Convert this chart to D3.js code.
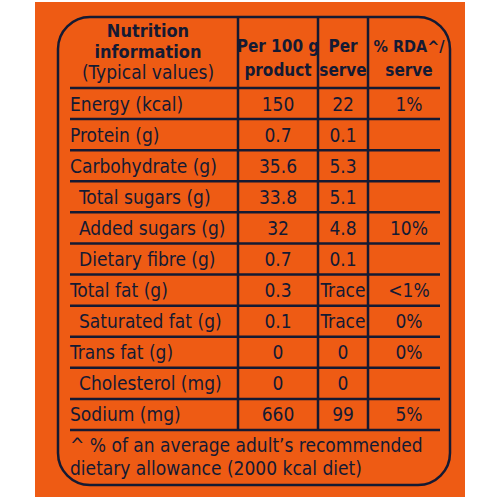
<!DOCTYPE html><html><head><style>body{margin:0;background:#fff}</style>
<script src="https://cdn.jsdelivr.net/npm/d3@7"></script></head><body><svg width="500" height="500"></svg>
<script>
const labels=["Energy (kcal)","Protein (g)","Carbohydrate (g)","Total sugars (g)","Added sugars (g)","Dietary fibre (g)","Total fat (g)","Saturated fat (g)","Trans fat (g)","Cholesterol (mg)","Sodium (mg)"];
const indent=[0,0,0,1,1,1,0,1,0,1,0];
const per100=["150","0.7","35.6","33.8","32","0.7","0.3","0.1","0","0","660"];
const perServe=["22","0.1","5.3","5.1","4.8","0.1","Trace","Trace","0","0","99"];
const rda=["1%","","","","10%","","<1%","0%","0%","","5%"];
const svg=d3.select("svg"),ink="#141a33",F="'DejaVu Sans Condensed','DejaVu Sans',sans-serif";
svg.append("rect").attr("x",35).attr("y",2).attr("width",430).attr("height",495).attr("fill","#ee5b14");
const y=d3.scaleBand().domain(d3.range(labels.length)).range([88,430]);
svg.append("rect").attr("x",58).attr("y",17).attr("width",392).attr("height",468).attr("rx",32).attr("fill","none").attr("stroke",ink).attr("stroke-width",2.5);
[238,318,368].forEach(x=>svg.append("line").attr("x1",x).attr("x2",x).attr("y1",17).attr("y2",430).attr("stroke",ink).attr("stroke-width",2.5));
d3.range(labels.length+1).forEach(i=>{const yy=i<labels.length?y(i):430;svg.append("line").attr("x1",70).attr("x2",440).attr("y1",yy).attr("y2",yy).attr("stroke",ink).attr("stroke-width",2.5)});
const t=(x,yy,s,o={})=>svg.append("text").attr("x",x).attr("y",yy).text(s).attr("fill",ink).attr("font-family",F).attr("font-size",o.fs||19).attr("font-weight",o.b?"bold":"normal").attr("text-anchor",o.a||"start");
t(148,37,"Nutrition",{a:"middle",b:1,fs:18});t(148,58,"information",{a:"middle",b:1,fs:18});t(148,79,"(Typical values)",{a:"middle",fs:19});
t(278,52,"Per 100 g",{a:"middle",b:1,fs:17});t(278,76,"product",{a:"middle",b:1,fs:17});
t(343,52,"Per",{a:"middle",b:1,fs:17});t(343,76,"serve",{a:"middle",b:1,fs:17});
t(409,52,"% RDA^/",{a:"middle",b:1,fs:16});t(409,76,"serve",{a:"middle",b:1,fs:17});
labels.forEach((l,i)=>{const yy=y(i)+y.bandwidth()/2+7;t(indent[i]?79:70,yy,l);t(278,yy,per100[i],{a:"middle"});t(343,yy,perServe[i],{a:"middle"});t(409,yy,rda[i],{a:"middle"});});
t(70,452,"^ % of an average adult’s recommended");t(70,475,"dietary allowance (2000 kcal diet)");
</script></body></html>
